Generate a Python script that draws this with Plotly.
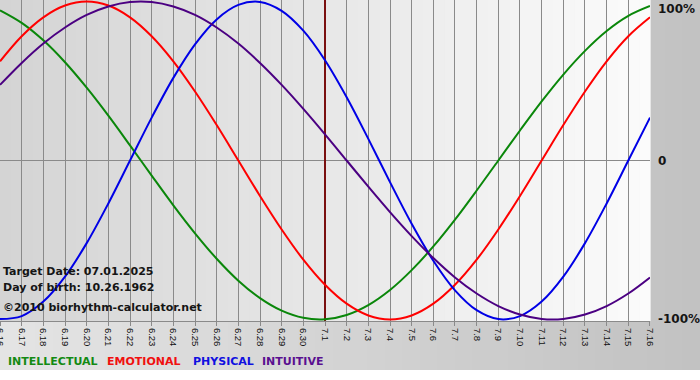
import plotly.graph_objects as go

# ---- data ----
day_labels = ["6.16", "6.17", "6.18", "6.19", "6.20", "6.21", "6.22", "6.23", "6.24", "6.25",
              "6.26", "6.27", "6.28", "6.29", "6.30", "7.1", "7.2", "7.3", "7.4", "7.5",
              "7.6", "7.7", "7.8", "7.9", "7.10", "7.11", "7.12", "7.13", "7.14", "7.15", "7.16"]
target_label = "7.1"

physical = [-0.998, -0.979, -0.888, -0.731, -0.520, -0.270, 0.0, 0.270, 0.520, 0.731,
            0.888, 0.979, 0.998, 0.942, 0.817, 0.631, 0.398, 0.136, -0.136, -0.398,
            -0.631, -0.817, -0.942, -0.998, -0.979, -0.888, -0.731, -0.520, -0.270, 0.0, 0.270]
emotional = [0.624, 0.782, 0.901, 0.975, 1.0, 0.975, 0.901, 0.782, 0.624, 0.434,
             0.223, 0.0, -0.223, -0.434, -0.624, -0.782, -0.901, -0.975, -1.0, -0.975,
             -0.901, -0.782, -0.624, -0.434, -0.223, 0.0, 0.223, 0.434, 0.624, 0.782, 0.901]
intellectual = [0.945, 0.866, 0.756, 0.618, 0.458, 0.282, 0.095, -0.095, -0.282, -0.458,
                -0.618, -0.756, -0.866, -0.945, -0.990, -0.999, -0.972, -0.910, -0.815, -0.690,
                -0.541, -0.372, -0.189, 0.0, 0.189, 0.372, 0.541, 0.690, 0.815, 0.910, 0.972]
intuitive = [0.476, 0.614, 0.736, 0.837, 0.916, 0.969, 0.997, 0.997, 0.969, 0.916,
             0.837, 0.736, 0.614, 0.476, 0.325, 0.165, 0.0, -0.165, -0.325, -0.476,
             -0.614, -0.736, -0.837, -0.916, -0.969, -0.997, -0.997, -0.969, -0.916, -0.837, -0.736]

series_names = ["INTELLECTUAL", "EMOTIONAL", "PHYSICAL", "INTUITIVE"]
series_colors = ["#0a870a", "#ff0000", "#0000e6", "#4b0082"]
legend_colors = ["#138a13", "#f01010", "#1010e0", "#5a1090"]

info_lines = ["Target Date: 07.01.2025", "Day of birth: 10.26.1962", "\u00a92010 biorhythm-calculator.net"]
y_labels = ["100%", "0", "-100%"]

# ---- figure ----
xs = list(range(len(day_labels)))
target_x = day_labels.index(target_label)

fig = go.Figure()

# target-date line (under the curves)
fig.add_trace(go.Scatter(x=[target_x, target_x], y=[-1.02, 1.02], mode="lines",
                         line=dict(color="#7a1010", width=2), hoverinfo="skip", showlegend=False))

for name, vals, col in zip(series_names, [intellectual, emotional, physical, intuitive], series_colors):
    fig.add_trace(go.Scatter(x=xs, y=vals, mode="lines", name=name,
                             line=dict(color=col, width=2, shape="spline"), showlegend=False))

shapes = []

def lerp(a, b, t):
    return int(round(a + (b - a) * t))

# paper background gradient (whole image area)
bottom_paper = -(370 - 321) / 321
right_paper = 700 / 650
n = 40
for i in range(n):
    t = i / (n - 1)
    g = lerp(228, 194, t)
    shapes.append(dict(type="rect", xref="paper", yref="paper",
                       x0=right_paper * i / n, x1=right_paper * (i + 1) / n + 0.002,
                       y0=bottom_paper, y1=1.0, fillcolor=f"rgb({g},{g},{g})",
                       line=dict(width=0), layer="below"))
# plot-area gradient
n = 60
for i in range(n):
    t = i / (n - 1)
    g = lerp(212, 251, t)
    shapes.append(dict(type="rect", xref="paper", yref="paper",
                       x0=i / n, x1=(i + 1) / n + 0.001, y0=0, y1=1,
                       fillcolor=f"rgb({g},{g},{g})", line=dict(width=0), layer="below"))
# white strip at very bottom
shapes.append(dict(type="rect", xref="paper", yref="paper", x0=-0.01, x1=1.1,
                   y0=-(381 - 321) / 321, y1=bottom_paper, fillcolor="white",
                   line=dict(width=0), layer="below"))

annotations = []
# info text
info_y = [(321 - 271) / 321, (321 - 287) / 321, (321 - 307) / 321]
for txt, yy in zip(info_lines, info_y):
    annotations.append(dict(text=f"<b>{txt}</b>", xref="paper", yref="paper", x=0, y=yy,
                            xanchor="left", yanchor="middle", showarrow=False, xshift=1,
                            font=dict(family="DejaVu Sans", size=11, color="#151515")))
# right-hand y labels
for txt, yy, ya in zip(y_labels, [1.0, 0.0, -1.0], ["top", "middle", "middle"]):
    annotations.append(dict(text=f"<b>{txt}</b>", xref="paper", yref="y", x=1, y=yy if ya == "middle" else 1.01,
                            xanchor="left", yanchor=ya, showarrow=False, xshift=6,
                            font=dict(family="DejaVu Sans", size=12, color="#151515")))
# legend text
leg_x = [8, 107, 193, 262]
for name, col, lx in zip(series_names, legend_colors, leg_x):
    annotations.append(dict(text=f"<b>{name}</b>", xref="paper", yref="paper", x=lx / 650,
                            y=(321 - 361) / 321, xanchor="left", yanchor="middle", showarrow=False,
                            xshift=-2, font=dict(family="DejaVu Sans", size=11, color=col)))

fig.update_layout(
    width=700, height=380,
    margin=dict(l=0, r=50, t=0, b=59, pad=0, autoexpand=False),
    paper_bgcolor="#c8c8c8",
    plot_bgcolor="rgba(0,0,0,0)",
    showlegend=False,
    shapes=shapes,
    annotations=annotations,
    xaxis=dict(range=[-0.001, len(day_labels) - 1 + 0.001], tickmode="array", tickvals=xs, ticktext=day_labels,
               tickangle=90, showgrid=True, gridcolor="#8a8a8a", gridwidth=1, automargin=False,
               ticklabeloverflow="allow",
               ticks="outside", ticklen=4, tickcolor="#8a8a8a", showline=True, linecolor="#8a8a8a",
               zeroline=False, tickfont=dict(family="Liberation Sans", size=9.5, color="#111111"),
               fixedrange=True),
    yaxis=dict(range=[-1.01, 1.01], showticklabels=False, showgrid=False, zeroline=True, automargin=False,
               zerolinecolor="#8a8a8a", zerolinewidth=1, fixedrange=True),
)

fig.write_html("out.html", config={"displayModeBar": False},
               post_script="document.body.style.margin='0';document.body.style.overflow='hidden';")
